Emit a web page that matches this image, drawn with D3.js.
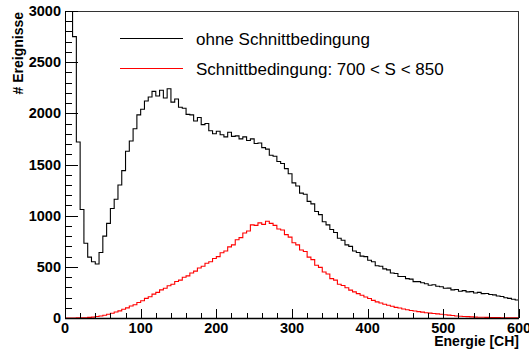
<!DOCTYPE html>
<html>
<head>
<meta charset="utf-8">
<script src="https://cdn.jsdelivr.net/npm/d3@7"></script>
<style>
  body { margin: 0; background: #fff; }
  text { font-family: "Liberation Sans", Arial, Helvetica, sans-serif; }
</style>
</head>
<body>
<div id="chart"></div>
<script>
// histogram, 5 channels per bin, 0..600
var binWidth = 5;
var ohneSchnitt = [
  4500, 3800, 2750, 1720, 1060, 730, 595, 550, 528, 640,
  800, 925, 1070, 1160, 1300, 1440, 1630, 1730, 1850, 1985,
  2040, 2120, 2160, 2215, 2170, 2225, 2150, 2240, 2110, 2140,
  2060, 2050, 1990, 1985, 1925, 1960, 1890, 1900, 1830, 1800,
  1825, 1790, 1770, 1815, 1775, 1780, 1750, 1770, 1735, 1750,
  1705, 1710, 1665, 1650, 1590, 1580, 1530, 1510, 1460, 1410,
  1320, 1290, 1220, 1210, 1140, 1115, 1040, 1010, 940, 910,
  865, 835, 780, 760, 715, 700, 655, 640, 605, 600,
  565, 550, 510, 505, 480, 470, 440, 435, 405, 405,
  385, 380, 355, 355, 345, 335, 320, 325, 310, 305,
  290, 292, 275, 278, 262, 268, 255, 258, 245, 250,
  238, 240, 230, 226, 215, 210, 198, 192, 183, 176
];
var mitSchnitt = [
  0, 0, 0, 1, 2, 3, 6, 9, 14, 20,
  27, 36, 46, 58, 70, 86, 99, 117, 129, 152,
  168, 192, 208, 233, 250, 275, 290, 315, 330, 356,
  370, 398, 412, 440, 458, 488, 505, 535, 550, 582,
  600, 638, 655, 695, 715, 765, 785, 830, 850, 910,
  905, 930, 915, 945, 925, 905, 870, 860, 815, 790,
  735, 715, 665, 650, 595, 570, 515, 495, 450, 430,
  385, 370, 330, 318, 295, 272, 255, 238, 222, 205,
  190, 172, 158, 146, 135, 124, 115, 104, 97, 88,
  80, 74, 68, 62, 57, 52, 48, 44, 40, 36,
  32, 28, 24, 20, 17, 15, 13, 11, 9, 8,
  7, 6, 5, 4, 4, 3, 3, 2, 2, 1
];
var xTicks = [0, 100, 200, 300, 400, 500, 600];
var yTicks = [0, 500, 1000, 1500, 2000, 2500, 3000];
var legendLabels = ["ohne Schnittbedingung", "Schnittbedingung: 700 < S < 850"];
var colors = ["#000000", "#ff0000"];

var width = 529, height = 351;
var frameL = 65, frameR = 519, frameT = 11, frameB = 318;

var svg = d3.select('#chart').append('svg')
    .attr('width', width)
    .attr('height', height);

var x = d3.scaleLinear().domain([0, 600]).range([frameL, frameR]);
var y = d3.scaleLinear().domain([0, 3000]).range([frameB, frameT]);

svg.append('clipPath').attr('id', 'frame')
  .append('rect')
    .attr('x', frameL).attr('y', frameT)
    .attr('width', frameR - frameL).attr('height', frameB - frameT);

function steps(values) {
  var pts = values.map(function (v, i) { return [i * binWidth, v]; });
  pts.push([values.length * binWidth, values[values.length - 1]]);
  return pts;
}

var line = d3.line()
    .x(function (d) { return x(d[0]); })
    .y(function (d) { return y(d[1]); })
    .curve(d3.curveStepAfter);

var plot = svg.append('g').attr('clip-path', 'url(#frame)');
[ohneSchnitt, mitSchnitt].forEach(function (s, i) {
  plot.append('path')
    .attr('d', line(steps(s)))
    .attr('fill', 'none')
    .attr('stroke', colors[i])
    .attr('stroke-width', 1.1);
});

// frame
svg.append('rect')
    .attr('x', frameL + 0.5).attr('y', frameT + 0.5)
    .attr('width', frameR - frameL - 1).attr('height', frameB - frameT)
    .attr('fill', 'none')
    .attr('stroke', '#333')
    .attr('stroke-width', 1);

// y axis, ticks inside
var yAxis = svg.append('g');
yAxis.append('line')
    .attr('x1', frameL + 0.5).attr('x2', frameL + 0.5)
    .attr('y1', frameT).attr('y2', frameB)
    .attr('stroke', '#000');
d3.range(0, 3001, 100).forEach(function (v) {
  var major = v % 500 === 0;
  yAxis.append('line')
    .attr('x1', frameL).attr('x2', frameL + (major ? 13 : 7))
    .attr('y1', Math.round(y(v)) + 0.5).attr('y2', Math.round(y(v)) + 0.5)
    .attr('stroke', '#000');
});
yAxis.selectAll('text.tick')
  .data(yTicks)
  .enter()
  .append('text')
    .attr('x', 61)
    .attr('y', function (d) { return y(d) + 5; })
    .attr('text-anchor', 'end')
    .attr('font-weight', 'bold')
    .attr('font-size', '14.5px')
    .text(function (d) { return d; });

// x axis, ticks inside
var xAxis = svg.append('g');
xAxis.append('line')
    .attr('x1', frameL).attr('x2', frameR)
    .attr('y1', frameB + 0.5).attr('y2', frameB + 0.5)
    .attr('stroke', '#000')
    .attr('stroke-width', 1.5);
d3.range(0, 601, 20).forEach(function (v) {
  var major = v % 100 === 0;
  xAxis.append('line')
    .attr('x1', Math.round(x(v)) + 0.5).attr('x2', Math.round(x(v)) + 0.5)
    .attr('y1', frameB).attr('y2', frameB - (major ? 9 : 5))
    .attr('stroke', '#000');
});
xAxis.selectAll('text.tick')
  .data(xTicks)
  .enter()
  .append('text')
    .attr('x', function (d) { return x(d); })
    .attr('y', 333)
    .attr('text-anchor', 'middle')
    .attr('font-weight', 'bold')
    .attr('font-size', '14.5px')
    .text(function (d) { return d; });

// axis titles
svg.append('text')
    .attr('x', frameR)
    .attr('y', 346)
    .attr('text-anchor', 'end')
    .attr('font-weight', 'bold')
    .attr('font-size', '14px')
    .text('Energie [CH]');

svg.append('text')
    .attr('transform', 'translate(23,12) rotate(-90)')
    .attr('text-anchor', 'end')
    .attr('font-weight', 'bold')
    .attr('font-size', '14px')
    .text('# Ereignisse');

// legend
var legend = svg.append('g');
legendLabels.forEach(function (lab, i) {
  var ly = [38.5, 68.5][i];
  legend.append('line')
    .attr('x1', 120).attr('x2', 183)
    .attr('y1', ly).attr('y2', ly)
    .attr('stroke', colors[i])
    .attr('stroke-width', 1);
  legend.append('text')
    .attr('x', 196)
    .attr('y', ly + 6.5)
    .attr('font-size', '17px')
    .text(lab);
});
</script>
</body>
</html>
